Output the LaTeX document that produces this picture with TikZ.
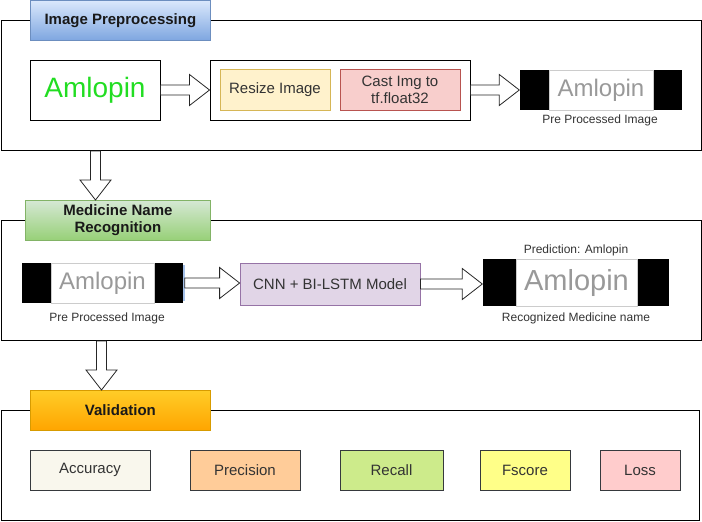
\documentclass[tikz,border=0pt]{standalone}
\usepackage{fontspec}
\setmainfont{Liberation Sans}
\usetikzlibrary{calc, positioning}
\definecolor{ttlblueA}{HTML}{DAE8FC}
\definecolor{ttlblueB}{HTML}{7EA6E0}
\definecolor{ttlblueD}{HTML}{6C8EBF}
\definecolor{ttlgreenA}{HTML}{D5E8D4}
\definecolor{ttlgreenB}{HTML}{97D077}
\definecolor{ttlgreenD}{HTML}{82B366}
\definecolor{ttlorangeA}{HTML}{FFCD28}
\definecolor{ttlorangeB}{HTML}{FFA500}
\definecolor{ttlorangeD}{HTML}{D79B00}
\definecolor{resizefill}{HTML}{FFF2CC}
\definecolor{resizedraw}{HTML}{D6B656}
\definecolor{castfill}{HTML}{F8CECC}
\definecolor{castdraw}{HTML}{B85450}
\definecolor{cnnfill}{HTML}{E1D5E7}
\definecolor{cnndraw}{HTML}{9673A6}
\definecolor{metdraw}{HTML}{36393D}
\definecolor{accfill}{HTML}{F9F7ED}
\definecolor{precfill}{HTML}{FFCC99}
\definecolor{recfill}{HTML}{CDEB8B}
\definecolor{fscfill}{HTML}{FFFF88}
\definecolor{lossfill}{HTML}{FFCCCC}
\definecolor{handgreen}{HTML}{22DD22}
\definecolor{handgray}{HTML}{999999}
\definecolor{txtgray}{HTML}{333333}

\tikzset{
  secbox/.style={draw, line width=1pt, minimum width=700pt, anchor=north west},
  ttlbox/.style={line width=0.8pt, anchor=north west, minimum height=40pt,
    font=\fontsize{15}{17}\selectfont\bfseries, text=black!90, align=center},
  procbox/.style={line width=0.8pt, minimum height=41pt, text=txtgray,
    font=\fontsize{15}{17}\selectfont, align=center},
  metbox/.style={procbox, draw=metdraw, minimum height=40pt},
  imgmid/.style={draw=black!20, line width=0.6pt, fill=white, inner sep=0pt},
  imgblk/.style={fill=black, inner sep=0pt},
  lbl/.style={font=\fontsize{12}{14}\selectfont, text=txtgray},
  blockarr/.style={draw=black!85, fill=white, line width=0.8pt}
}

% block arrows between named points
\newcommand{\hblockarrow}[2]{\draw[blockarr] let \p1=(#1), \p2=(#2) in
  (\x1,{\y1+5pt}) -- ({\x2-20pt},{\y1+5pt}) -- ({\x2-20pt},{\y1+15.5pt}) -- (\x2,\y1)
  -- ({\x2-20pt},{\y1-15.5pt}) -- ({\x2-20pt},{\y1-5pt}) -- (\x1,{\y1-5pt}) -- cycle;}
\newcommand{\vblockarrow}[2]{\draw[blockarr] let \p1=(#1), \p2=(#2) in
  ({\x1-5pt},\y1) -- ({\x1-5pt},{\y2+20pt}) -- ({\x1-15.5pt},{\y2+20pt}) -- (\x1,\y2)
  -- ({\x1+15.5pt},{\y2+20pt}) -- ({\x1+5pt},{\y2+20pt}) -- ({\x1+5pt},\y1) -- cycle;}

\begin{document}
\begin{tikzpicture}[x=1pt, y=-1pt]

\useasboundingbox (0,0) rectangle (702,522);

% --- Image Preprocessing ---
\node[secbox, minimum height=130pt] (sec1) at (0.5,20) {};
\node[ttlbox, top color=ttlblueA, bottom color=ttlblueB, draw=ttlblueD,
      minimum width=180pt] (ttl1) at (30,0) {Image Preprocessing};

\node[draw, line width=1pt, minimum width=130pt, minimum height=60pt,
      font=\fontsize{28}{30}\selectfont, text=handgreen] (inp) at (95,90) {Amlopin};

\node[draw, line width=1pt, minimum width=260pt, minimum height=60pt] (ops) at (340,90) {};
\node[procbox, fill=resizefill, draw=resizedraw, minimum width=110pt] (resize) at (275,89.5) {Resize Image};
\node[procbox, fill=castfill, draw=castdraw, minimum width=120pt] (cast) at (400,89.5) {Cast Img to\\tf.float32};

\node[imgmid, minimum width=104pt, minimum height=40pt,
      font=\fontsize{24}{26}\selectfont, text=handgray] (pre1) at (601,90) {Amlopin};
\node[imgblk, minimum width=29pt, minimum height=40pt, left=0pt of pre1] (pre1l) {};
\node[imgblk, minimum width=28pt, minimum height=40pt, right=0pt of pre1] (pre1r) {};
\node[lbl] (pre1lbl) at (600,120) {Pre Processed Image};

\hblockarrow{inp.east}{ops.west}
\hblockarrow{ops.east}{pre1l.west}

% --- Medicine Name Recognition ---
\node[secbox, minimum height=120pt] (sec2) at (0.5,220) {};
\node[ttlbox, top color=ttlgreenA, bottom color=ttlgreenB, draw=ttlgreenD,
      minimum width=185pt] (ttl2) at (25,200) {Medicine Name\\Recognition};

\node[imgmid, minimum width=103pt, minimum height=40pt,
      font=\fontsize{24}{26}\selectfont, text=handgray] (pre2) at (102.5,283) {Amlopin};
\node[imgblk, minimum width=29pt, minimum height=40pt, left=0pt of pre2] (pre2l) {};
\node[imgblk, minimum width=28pt, minimum height=40pt, right=0pt of pre2] (pre2r) {};
\fill[ttlblueB!70] (pre2r.north east) ++(0,2) rectangle ([xshift=2pt, yshift=2pt]pre2r.south east);
\node[lbl] (pre2lbl) at (107,318) {Pre Processed Image};

\node[procbox, fill=cnnfill, draw=cnndraw, minimum width=180pt, minimum height=42pt] (cnn) at (330,284) {CNN + BI-LSTM Model};

\node[imgmid, minimum width=121pt, minimum height=47pt,
      font=\fontsize{29}{31}\selectfont, text=handgray] (rec) at (576.5,282.5) {Amlopin};
\node[imgblk, minimum width=33pt, minimum height=47pt, left=0pt of rec] (recl) {};
\node[imgblk, minimum width=31pt, minimum height=47pt, right=0pt of rec] (recr) {};
\node[lbl] (predlbl) at (576,250) {Prediction: Amlopin};
\node[lbl] (reclbl) at (576,318) {Recognized Medicine name};

\hblockarrow{[xshift=2pt]pre2r.east}{cnn.west}
\hblockarrow{cnn.east}{recl.west}

\vblockarrow{[xshift=95pt]sec1.south west}{ttl2.north}

% --- Validation ---
\node[secbox, minimum height=110pt, minimum width=698pt] (sec3) at (0.5,410) {};
\node[ttlbox, top color=ttlorangeA, bottom color=ttlorangeB, draw=ttlorangeD,
      minimum width=180pt] (ttl3) at (30,390) {Validation};

\vblockarrow{[xshift=101pt]sec2.south west}{ttl3.north}

\node[metbox, fill=accfill, minimum width=120pt] (acc) at (90,470) {Accuracy};
\node[metbox, fill=precfill, minimum width=110pt] (prec) at (245,470) {Precision};
\node[metbox, fill=recfill, minimum width=103pt] (rec) at (391.5,470) {Recall};
\node[metbox, fill=fscfill, minimum width=90pt] (fsc) at (525,470) {Fscore};
\node[metbox, fill=lossfill, minimum width=80pt] (loss) at (640,470) {Loss};

\end{tikzpicture}
\end{document}
